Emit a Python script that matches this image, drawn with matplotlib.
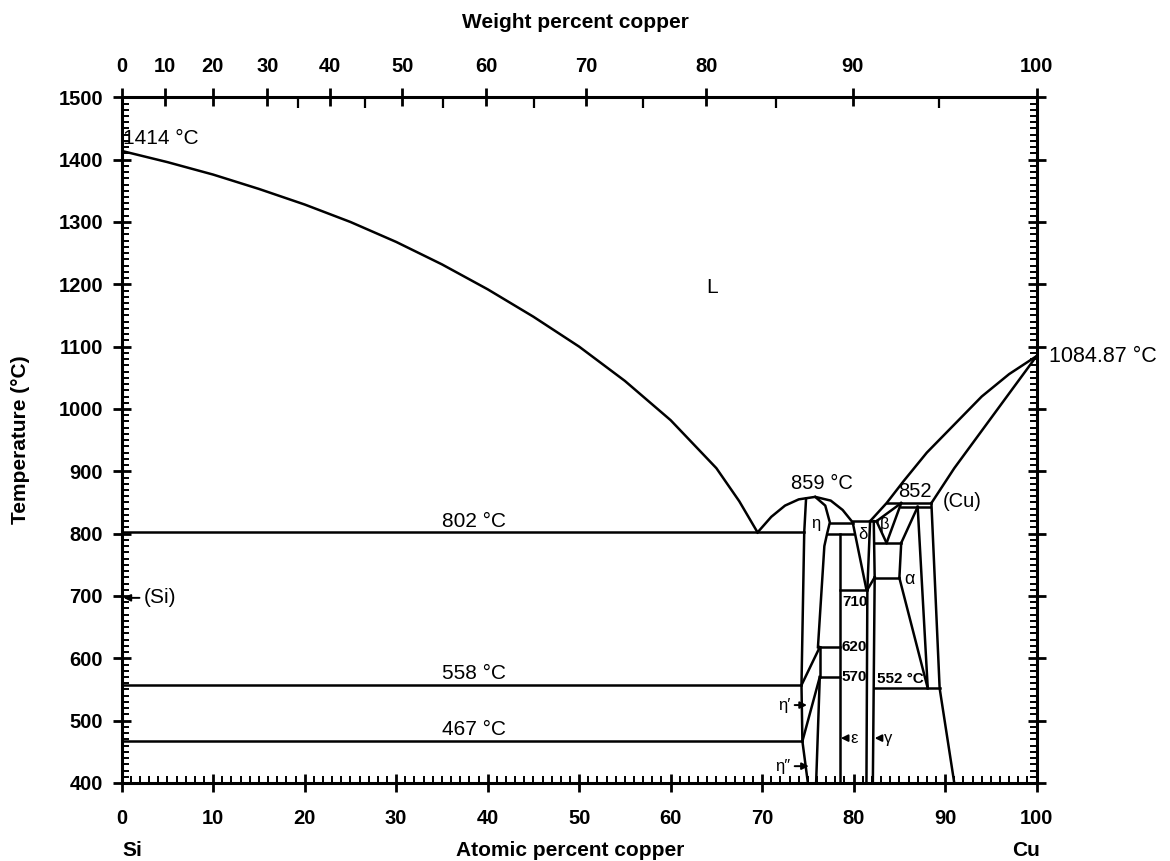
import numpy as np
import matplotlib
matplotlib.use('Agg')
import matplotlib.pyplot as plt
from matplotlib.ticker import MultipleLocator, FixedLocator

plt.rcParams['font.family'] = ['Liberation Sans', 'DejaVu Sans']

# ---- data (atomic % Cu, temperature in degC) ----
liq_si_x = [0, 5, 10, 15, 20, 25, 30, 35, 40, 45, 50, 55, 60, 65, 67.5, 69.5]
liq_si_t = [1414, 1396, 1376, 1353, 1328, 1300, 1268, 1232, 1192, 1148, 1100, 1045, 982, 905, 852, 802]

dome_x = [69.5, 71, 72.5, 74, 75.8, 77.5, 78.8, 79.9]
dome_t = [802, 827, 845, 855, 859, 853, 838, 818]

liq_cu_x = [81.8, 83.6, 85.5, 88, 91, 94, 97, 100]
liq_cu_t = [820, 849, 885, 930, 975, 1020, 1056, 1084.87]

sol_cu_x = [88.5, 91, 93.8, 97, 100]
sol_cu_t = [849, 905, 961, 1025, 1084.87]

solvus_x = [88.5, 89.4, 91.0]
solvus_t = [849, 552, 400]

eta_left_x = [74.8, 74.6, 74.3, 74.4, 75.0]
eta_left_t = [856, 802, 557, 467, 400]

eta_right_x = [75.8, 76.9, 77.4, 77.1, 76.8, 76.1]
eta_right_t = [859, 845, 818, 800, 780, 618]

# straight boundaries: (x0, t0, x1, t1)
segments = [
    (77.4, 817, 79.9, 817),
    (77.1, 800, 79.9, 800),
    (78.5, 800, 78.5, 400),    # epsilon left
    (74.3, 557, 76.3, 618),    # eta' upper
    (76.1, 618, 78.5, 618),    # 620
    (76.3, 618, 76.3, 570),
    (76.3, 570, 78.5, 570),    # 570
    (74.4, 467, 76.3, 570),    # eta' lower
    (76.3, 570, 75.9, 400),    # eta'' right
    (79.9, 818, 81.4, 710),    # delta left
    (81.8, 820, 81.5, 710),    # delta right
    (79.9, 820, 82.5, 820),    # delta top
    (78.5, 710, 81.5, 710),    # 710
    (81.5, 710, 81.4, 400),    # gamma left
    (81.5, 710, 82.3, 730),
    (82.2, 820, 82.3, 730),
    (82.3, 730, 82.1, 400),    # gamma right
    (82.2, 785, 85.2, 785),    # alpha box
    (82.2, 729, 85.0, 729),
    (85.2, 785, 85.0, 729),
    (82.5, 820, 85.2, 849),    # beta
    (82.5, 820, 83.6, 785),
    (85.2, 849, 83.6, 785),
    (83.6, 849, 88.5, 849),    # 852
    (85.2, 843, 88.3, 843),
    (87.0, 843, 85.2, 785),
    (87.0, 843, 88.1, 552),
    (85.0, 729, 88.1, 552),
    (82.2, 552, 89.4, 552),    # 552
]

iso_t = [802, 558, 467]
iso_end = [74.6, 74.3, 74.4]
iso_labels = ['802 °C', '558 °C', '467 °C']

wt_major = [0, 10, 20, 30, 40, 50, 60, 70, 80, 90, 100]
wt_minor = [35, 45, 55, 65, 75, 85, 95]

M_CU, M_SI = 63.546, 28.0855


def wt_to_at(w):
    w = np.asarray(w, float)
    return 100 * (w / M_CU) / (w / M_CU + (100 - w) / M_SI)


fig = plt.figure(figsize=(11.7, 8.61), dpi=100)
ax = fig.add_axes([0.104, 0.0906, 0.782, 0.7964])
lw = 1.8
k = 'black'

ax.plot(liq_si_x, liq_si_t, color=k, lw=lw)
ax.plot(dome_x, dome_t, color=k, lw=lw)
ax.plot(liq_cu_x, liq_cu_t, color=k, lw=lw)
ax.plot(sol_cu_x, sol_cu_t, color=k, lw=lw)
ax.plot(solvus_x, solvus_t, color=k, lw=lw)
ax.plot(eta_left_x, eta_left_t, color=k, lw=lw)
ax.plot(eta_right_x, eta_right_t, color=k, lw=lw)
for x0, t0, x1, t1 in segments:
    ax.plot([x0, x1], [t0, t1], color=k, lw=lw)
for t, xe, lab in zip(iso_t, iso_end, iso_labels):
    ax.plot([0, xe], [t, t], color=k, lw=lw)
    ax.text(38.5, t + 3, lab, ha='center', va='bottom', fontsize=15)

ax.set_xlim(0, 100)
ax.set_ylim(400, 1500)

# labels in the diagram
ax.text(0.1, 1434, '1414 °C', ha='left', va='center', fontsize=15)
ax.text(64.5, 1195, 'L', ha='center', va='center', fontsize=15)
ax.text(76.5, 880, '859 °C', ha='center', va='center', fontsize=14.5)
ax.text(86.7, 867, '852', ha='center', va='center', fontsize=14.5)
ax.text(89.7, 852, '(Cu)', ha='left', va='center', fontsize=14.5)
ax.text(101.4, 1084.87, '1084.87 °C', ha='left', va='center', fontsize=15.5, clip_on=False)
ax.text(75.9, 817, 'η', ha='center', va='center', fontsize=12)
ax.text(81.0, 799, 'δ', ha='center', va='center', fontsize=12)
ax.text(83.4, 814, 'β', ha='center', va='center', fontsize=12)
ax.text(86.1, 727, 'α', ha='center', va='center', fontsize=13)
ax.text(78.8, 690, '710', ha='left', va='center', fontsize=11, fontweight='bold')
ax.text(78.7, 618, '620', ha='left', va='center', fontsize=11, fontweight='bold')
ax.text(78.7, 570, '570', ha='left', va='center', fontsize=11, fontweight='bold')
ax.text(82.6, 567, '552 °C', ha='left', va='center', fontsize=11, fontweight='bold')

arr = dict(arrowstyle='-|>', color=k, lw=1.4, shrinkA=1, shrinkB=0, mutation_scale=10)
ax.annotate('(Si)', xy=(0.2, 697), xytext=(2.4, 697), ha='left', va='center',
            fontsize=15, arrowprops=arr)
ax.annotate('ε', xy=(78.6, 472), xytext=(79.6, 472), ha='left', va='center',
            fontsize=12, arrowprops=arr)
ax.annotate('γ', xy=(82.3, 472), xytext=(83.3, 472), ha='left', va='center',
            fontsize=12, arrowprops=arr)
ax.annotate('η′', xy=(74.9, 525), xytext=(73.1, 525), ha='right', va='center',
            fontsize=12, arrowprops=arr)
ax.annotate('η″', xy=(75.1, 427), xytext=(73.1, 427), ha='right', va='center',
            fontsize=12, arrowprops=arr)

# axes / ticks
for s in ax.spines.values():
    s.set_linewidth(2.2)
ax.set_xticks(range(0, 101, 10))
ax.set_yticks(range(400, 1501, 100))
ax.xaxis.set_minor_locator(MultipleLocator(1))
ax.yaxis.set_minor_locator(MultipleLocator(10))
ax.tick_params(which='major', direction='inout', length=13, width=2, pad=7)
ax.tick_params(axis='x', which='major', pad=12)
ax.tick_params(which='minor', direction='in', length=5, width=1.4, top=True, right=True)
ax.tick_params(axis='y', which='major', right=True)
for lab in ax.get_xticklabels() + ax.get_yticklabels():
    lab.set_fontsize(14.5)
    lab.set_fontweight('bold')

ax2 = ax.twiny()
ax2.set_xlim(0, 100)
ax2.xaxis.set_major_locator(FixedLocator(wt_to_at(wt_major)))
ax2.set_xticklabels([str(w) for w in wt_major], fontsize=14.5, fontweight='bold')
ax2.xaxis.set_minor_locator(FixedLocator(wt_to_at(wt_minor)))
ax2.tick_params(which='major', direction='inout', length=13, width=2, pad=9)
ax2.tick_params(which='minor', direction='in', length=8, width=1.6)
for s in ax2.spines.values():
    s.set_visible(False)

fig.text(20 / 1170, 1 - 440 / 861, 'Temperature (°C)', rotation=90, ha='center', va='center',
         fontsize=15, fontweight='bold')
fig.text(575 / 1170, 1 - 23 / 861, 'Weight percent copper', ha='center', va='center',
         fontsize=15, fontweight='bold')
fig.text(570 / 1170, 1 - 850 / 861, 'Atomic percent copper', ha='center', va='center',
         fontsize=15, fontweight='bold')
fig.text(122 / 1170, 1 - 850 / 861, 'Si', ha='left', va='center', fontsize=15, fontweight='bold')
fig.text(1040 / 1170, 1 - 850 / 861, 'Cu', ha='right', va='center', fontsize=15, fontweight='bold')

fig.savefig('out.png', dpi=100)
